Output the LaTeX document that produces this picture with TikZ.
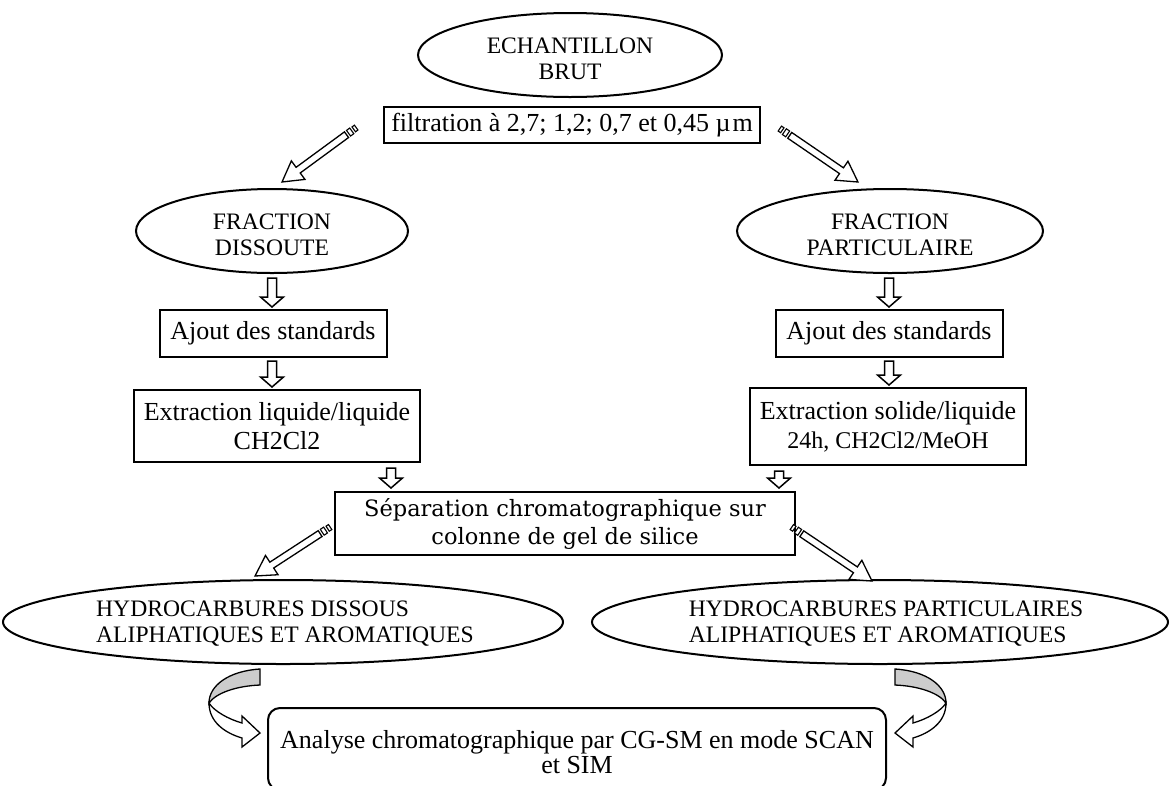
\documentclass[tikz,border=0pt]{standalone}
\usepackage{fontspec}
\setmainfont{Liberation Serif}
\newfontfamily\sepfont{DejaVu Serif}
\usetikzlibrary{shapes.geometric,calc}
\definecolor{bandgray}{RGB}{204,204,204}
\tikzset{
  pics/sarrowp/.style={code={
    \draw[fill=white,line width=1.3pt,line join=miter] (13,-3.5) -- ({#1-20},-3.5) -- ({#1-20},-11.5) -- (#1,0) -- ({#1-20},11.5) -- ({#1-20},3.5) -- (13,3.5) -- cycle;
    \draw[fill=white,line width=1.1pt] (6.5,-3.5) rectangle (10.5,3.5);
    \draw[fill=white,line width=1.1pt] (1,-3) rectangle (4,3);
  }},
  pics/darrowp/.style={code={
    \draw[fill=white,line width=1.5pt,line join=miter] (0,-4.5) -- ({#1-10},-4.5) -- ({#1-10},-11.5) -- (#1,0) -- ({#1-10},11.5) -- ({#1-10},4.5) -- (0,4.5) -- cycle;
  }}
}
\newcommand\blockarrow[3]{\path let \p1=($(#3)-(#2)$), \n1={atan2(\y1,\x1)}, \n2={veclen(\x1,\y1)} in pic[rotate=\n1] at (#2) {#1=\n2};}
\begin{document}
\begin{tikzpicture}[x=1pt,y=-1pt,
  every node/.style={font=\fontsize{26}{29}\selectfont},
  oval/.style={ellipse, draw, line width=2pt, inner sep=0pt},
  ovaltext/.style={inner sep=0pt, font=\fontsize{23.6}{26}\selectfont},
  box/.style={rectangle, draw, line width=2pt, inner sep=0pt, align=center},
  rbox/.style={rectangle, rounded corners=12pt, draw, line width=2pt, inner sep=0pt},
  curvearrow/.style={draw, line width=1.3pt, line join=miter}
]
\useasboundingbox (0,0) rectangle (1174,785);
\fill[white] (0,0) rectangle (1174,785);
\clip (0,0) rectangle (1174,785);

% top
\node[oval, minimum width=304, minimum height=84] (ech) at (570,55) {};
\node[ovaltext, align=center] (echt) at (570,59) {ECHANTILLON\\BRUT};
\node[box, minimum width=376, minimum height=36] (filt) at (572,125) {filtration à 2,7; 1,2; 0,7 et 0,45 µ\kern2pt m};

% fractions
\node[oval, minimum width=272, minimum height=84] (fdL) at (272,231) {};
\node[ovaltext, align=center] (fdLt) at (272,235) {FRACTION\\DISSOUTE};
\node[oval, minimum width=306, minimum height=84] (fpR) at (890,231) {};
\node[ovaltext, align=center] (fpRt) at (890,235) {FRACTION\\PARTICULAIRE};

% left column
\node[box, minimum width=227, minimum height=47] (ajL) at (273,333.5) {Ajout des standards};
\node[box, minimum width=286, minimum height=72] (exL) at (277,426) {Extraction liquide/liquide\\CH2Cl2};
% right column
\node[box, minimum width=227, minimum height=47] (ajR) at (889,333.5) {Ajout des standards};
\node[box, minimum width=276, minimum height=77] (exR) at (888,426.5) {Extraction solide/liquide\\{\fontsize{24}{26}\selectfont 24h, CH2Cl2/MeOH}};

% separation
\node[box, minimum width=460, minimum height=63, font=\sepfont\fontsize{22.5}{28}\selectfont] (sep) at (565,523.5) {Séparation chromatographique sur\\colonne de gel de silice};

% hydrocarbures
\node[oval, minimum width=560, minimum height=84] (hdL) at (283,622) {};
\node[ovaltext, align=left] (hdLt) at (285,624) {HYDROCARBURES DISSOUS\\ALIPHATIQUES ET AROMATIQUES};
\node[oval, minimum width=576, minimum height=84] (hpR) at (880,622) {};
\node[ovaltext, align=left] (hpRt) at (886,624) {HYDROCARBURES PARTICULAIRES\\ALIPHATIQUES ET AROMATIQUES};

% analyse
\node[rbox, minimum width=618, minimum height=82] (ana) at (577,749) {};
\node[align=center, inner sep=0pt, font=\fontsize{26}{25.5}\selectfont] (anat) at (577,752) {Analyse chromatographique par CG-SM en mode SCAN\\et SIM};

% diagonal striped arrows
\coordinate (d1a) at ($(filt.west)+(-26,2)$);
\coordinate (d1b) at ($(fdL.north)+(10,-6)$);
\coordinate (d2a) at ($(filt.east)+(18,3)$);
\coordinate (d2b) at ($(fpR.north)+(-32,-6)$);
\coordinate (d3a) at ($(sep.west)+(-3,3)$);
\coordinate (d3b) at ($(hdL.north)+(-28,-3)$);
\coordinate (d4a) at ($(sep.east)+(-5,3)$);
\coordinate (d4b) at ($(hpR.north)+(-8,2)$);
\blockarrow{sarrowp}{d1a}{d1b}
\blockarrow{sarrowp}{d2a}{d2b}
\blockarrow{sarrowp}{d3a}{d3b}
\blockarrow{sarrowp}{d4a}{d4b}

% vertical block arrows
\coordinate (v1a) at ($(fdL.south)+(0,4)$);
\coordinate (v1b) at ($(v1a |- ajL.north)+(0,-2)$);
\coordinate (v2a) at ($(ajL.south)+(-1,3)$);
\coordinate (v2b) at ($(v2a |- exL.north)+(0,-2)$);
\coordinate (v3a) at ($(exL.south east)+(-30,5)$);
\coordinate (v3b) at ($(v3a |- sep.north)+(0,-3)$);
\coordinate (v4a) at ($(fpR.south)+(-1,4)$);
\coordinate (v4b) at ($(v4a |- ajR.north)+(0,-2)$);
\coordinate (v5a) at ($(ajR.south)+(0,3)$);
\coordinate (v5b) at ($(v5a |- exR.north)+(0,-2)$);
\coordinate (v6a) at ($(exR.south west)+(30,5)$);
\coordinate (v6b) at ($(v6a |- sep.north)+(0,-3)$);
\blockarrow{darrowp}{v1a}{v1b}
\blockarrow{darrowp}{v2a}{v2b}
\blockarrow{darrowp}{v3a}{v3b}
\blockarrow{darrowp}{v4a}{v4b}
\blockarrow{darrowp}{v5a}{v5b}
\blockarrow{darrowp}{v6a}{v6b}

% curved arrows
\foreach \sh/\sc in {0/1, 1155/-1}{
\begin{scope}[shift={(\sh,0)}, xscale=\sc]
  \path[curvearrow, fill=bandgray] (260,669) .. controls (228,671) and (209,686) .. (209,703)
        .. controls (216,693) and (236,686) .. (260,685) -- cycle;
  \path[curvearrow, fill=white] (209,703) .. controls (209,722) and (225,733) .. (242,738)
        -- (242,747) -- (260,733) -- (242,716) -- (242,723)
        .. controls (228,719) and (214,711) .. (209,703) -- cycle;
\end{scope}
}
\end{tikzpicture}
\end{document}
